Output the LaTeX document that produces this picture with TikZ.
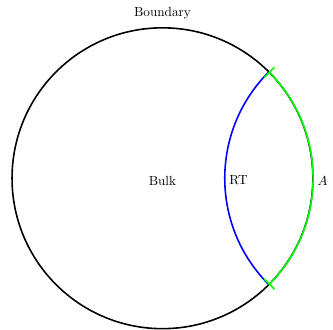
\documentclass[tikz,border=0pt]{standalone}
\usetikzlibrary{arrows.meta}
\begin{document}
\begin{tikzpicture}[
  lbl/.style={inner sep=0.333em},
  bdy/.style={draw=black, very thick},
  rt/.style={draw=blue, very thick},
  reg/.style={draw=green, very thick, {Bar[width=11pt]}-{Bar[width=11pt]}}
]
\useasboundingbox (-4.32,-4.035) rectangle (4.535,4.74);
\coordinate (O) at (0,-0.06);
\coordinate (C) at (0,0);
\coordinate (P1) at (45:4);
\coordinate (P2) at (-45:4);
\coordinate (G) at ({4*(sqrt(2)-1)},-0.06);
\coordinate (E) at (4,-0.06);
\draw[bdy] (C) circle (4);
\draw[rt] (P1) arc (135:225:4);
\draw[reg] (P2) arc (-45:45:4);
\node[lbl] (bulk) at (O) {Bulk};
\node[lbl, anchor=west] (rtl) at (G) {RT};
\node[lbl, anchor=west] (a) at (E) {$A$};
\node[lbl] (bd) at (0,4.39) {Boundary};
\end{tikzpicture}
\end{document}
